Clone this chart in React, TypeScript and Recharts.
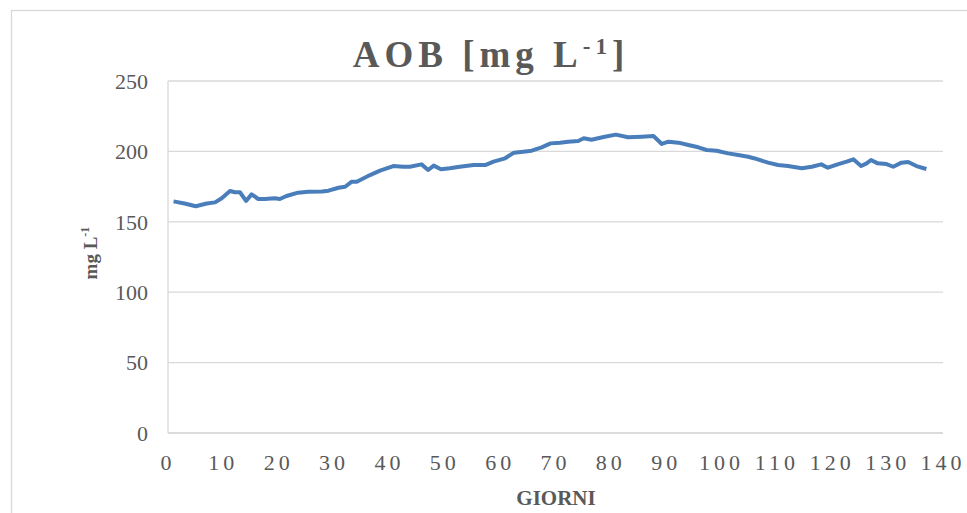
import { LineChart, Line, XAxis, YAxis, CartesianGrid } from "recharts";

const giorni = [
  1, 3, 5, 7, 8.5, 9.7, 11.2, 12.1, 13, 14.1, 15.1, 16.3, 17.5, 19.3, 20.2, 21.4, 23.5, 25.3, 27.8, 29,
  30.8, 32, 33.2, 34.1, 36.5, 38.3, 40.7, 42.5, 43.7, 45.8, 47, 48, 49.3, 50.9, 52.7, 55.2, 57.3, 58.8,
  60.9, 62.5, 64.2, 65.7, 67.5, 69.1, 70.8, 72.3, 74.1, 75.1, 76.5, 78.9, 80.9, 83.1, 85.6, 87.7, 89.2,
  90.4, 92.2, 94, 95.8, 97.3, 99.1, 101.2, 103, 104.8, 106, 108.4, 110.2, 112, 114.5, 116.3, 118, 119.2,
  121.1, 122.6, 123.8, 125.2, 126.2, 127, 128.2, 129.8, 131, 132.5, 133.7, 135.2, 137,
];

const aob = [
  164.5, 163, 161, 163, 163.8, 166.7, 171.9, 171, 171, 164.8, 169.5, 166.2, 166.2, 166.7, 166.2, 168.3,
  170.7, 171.4, 171.6, 172.1, 174.2, 174.9, 178.5, 178.5, 183.2, 186.3, 189.6, 189.1, 189.1, 190.8, 186.8,
  189.9, 187.3, 188, 189.1, 190.3, 190.3, 192.7, 195.1, 199.1, 199.8, 200.5, 202.9, 205.7, 206.2, 206.9,
  207.4, 209.3, 208.3, 210.4, 211.9, 210, 210.4, 210.9, 205.3, 206.9, 206.2, 204.5, 202.9, 201, 200.5,
  198.6, 197.4, 196.2, 195, 192, 190.3, 189.6, 188, 189.1, 190.8, 188.4, 191, 192.7, 194.4, 189.6, 191.5,
  193.9, 191.5, 191, 189.1, 192, 192.5, 189.6, 187.5,
];

const xTicks = [0, 10, 20, 30, 40, 50, 60, 70, 80, 90, 100, 110, 120, 130, 140];
const yTicks = [0, 50, 100, 150, 200, 250];

const data = giorni.map((g, i) => ({ giorno: g, aob: aob[i] }));

const textColor = "#595959";
const gridColor = "#d9d9d9";
const serif = "'Liberation Serif', 'Times New Roman', serif";

export default function App() {
  return (
    <div style={{ position: "absolute", left: 0, top: 0, width: 967, height: 513, overflow: "hidden", background: "#fff" }}>
      <LineChart width={967} height={513} data={data} margin={{ top: 81, right: 24, left: 0, bottom: 0 }}>
        <CartesianGrid vertical={false} stroke={gridColor} strokeWidth={1.3} />
        <XAxis
          dataKey="giorno"
          type="number"
          domain={[0, 140]}
          ticks={xTicks}
          height={80}
          tickSize={0}
          tickMargin={21}
          axisLine={{ stroke: gridColor, strokeWidth: 1.3 }}
          tick={{ fill: textColor, fontSize: 22, fontFamily: serif, letterSpacing: 4 }}
        />
        <YAxis
          type="number"
          domain={[0, 250]}
          ticks={yTicks}
          width={168}
          tickSize={0}
          tickMargin={20}
          axisLine={{ stroke: gridColor, strokeWidth: 1.3 }}
          tick={{ fill: textColor, fontSize: 22, fontFamily: serif }}
        />
        <Line
          type="linear"
          dataKey="aob"
          stroke="#4a7ebb"
          strokeWidth={4}
          strokeLinejoin="round"
          dot={false}
          isAnimationActive={false}
        />
      </LineChart>
      <svg width={967} height={513} style={{ position: "absolute", left: 0, top: 0, pointerEvents: "none" }}>
        <rect x={11.5} y={10.5} width={1100} height={700} fill="none" stroke={gridColor} strokeWidth={1.3} />
        <text
          x={491}
          y={67}
          textAnchor="middle"
          fill={textColor}
          fontFamily={serif}
          fontWeight="bold"
          fontSize={37}
          letterSpacing={5}
        >
          AOB [mg L
          <tspan fontSize={23} dy={-13}>-1</tspan>
          <tspan dy={13}>]</tspan>
        </text>
        <text
          transform="translate(97,253) rotate(-90)"
          textAnchor="middle"
          fill={textColor}
          fontFamily={serif}
          fontWeight="bold"
          fontSize={19}
        >
          mg L
          <tspan fontSize={12} dy={-8}>-1</tspan>
        </text>
        <text
          x={556}
          y={505}
          textAnchor="middle"
          fill={textColor}
          fontFamily={serif}
          fontWeight="bold"
          fontSize={21}
        >
          GIORNI
        </text>
      </svg>
    </div>
  );
}
